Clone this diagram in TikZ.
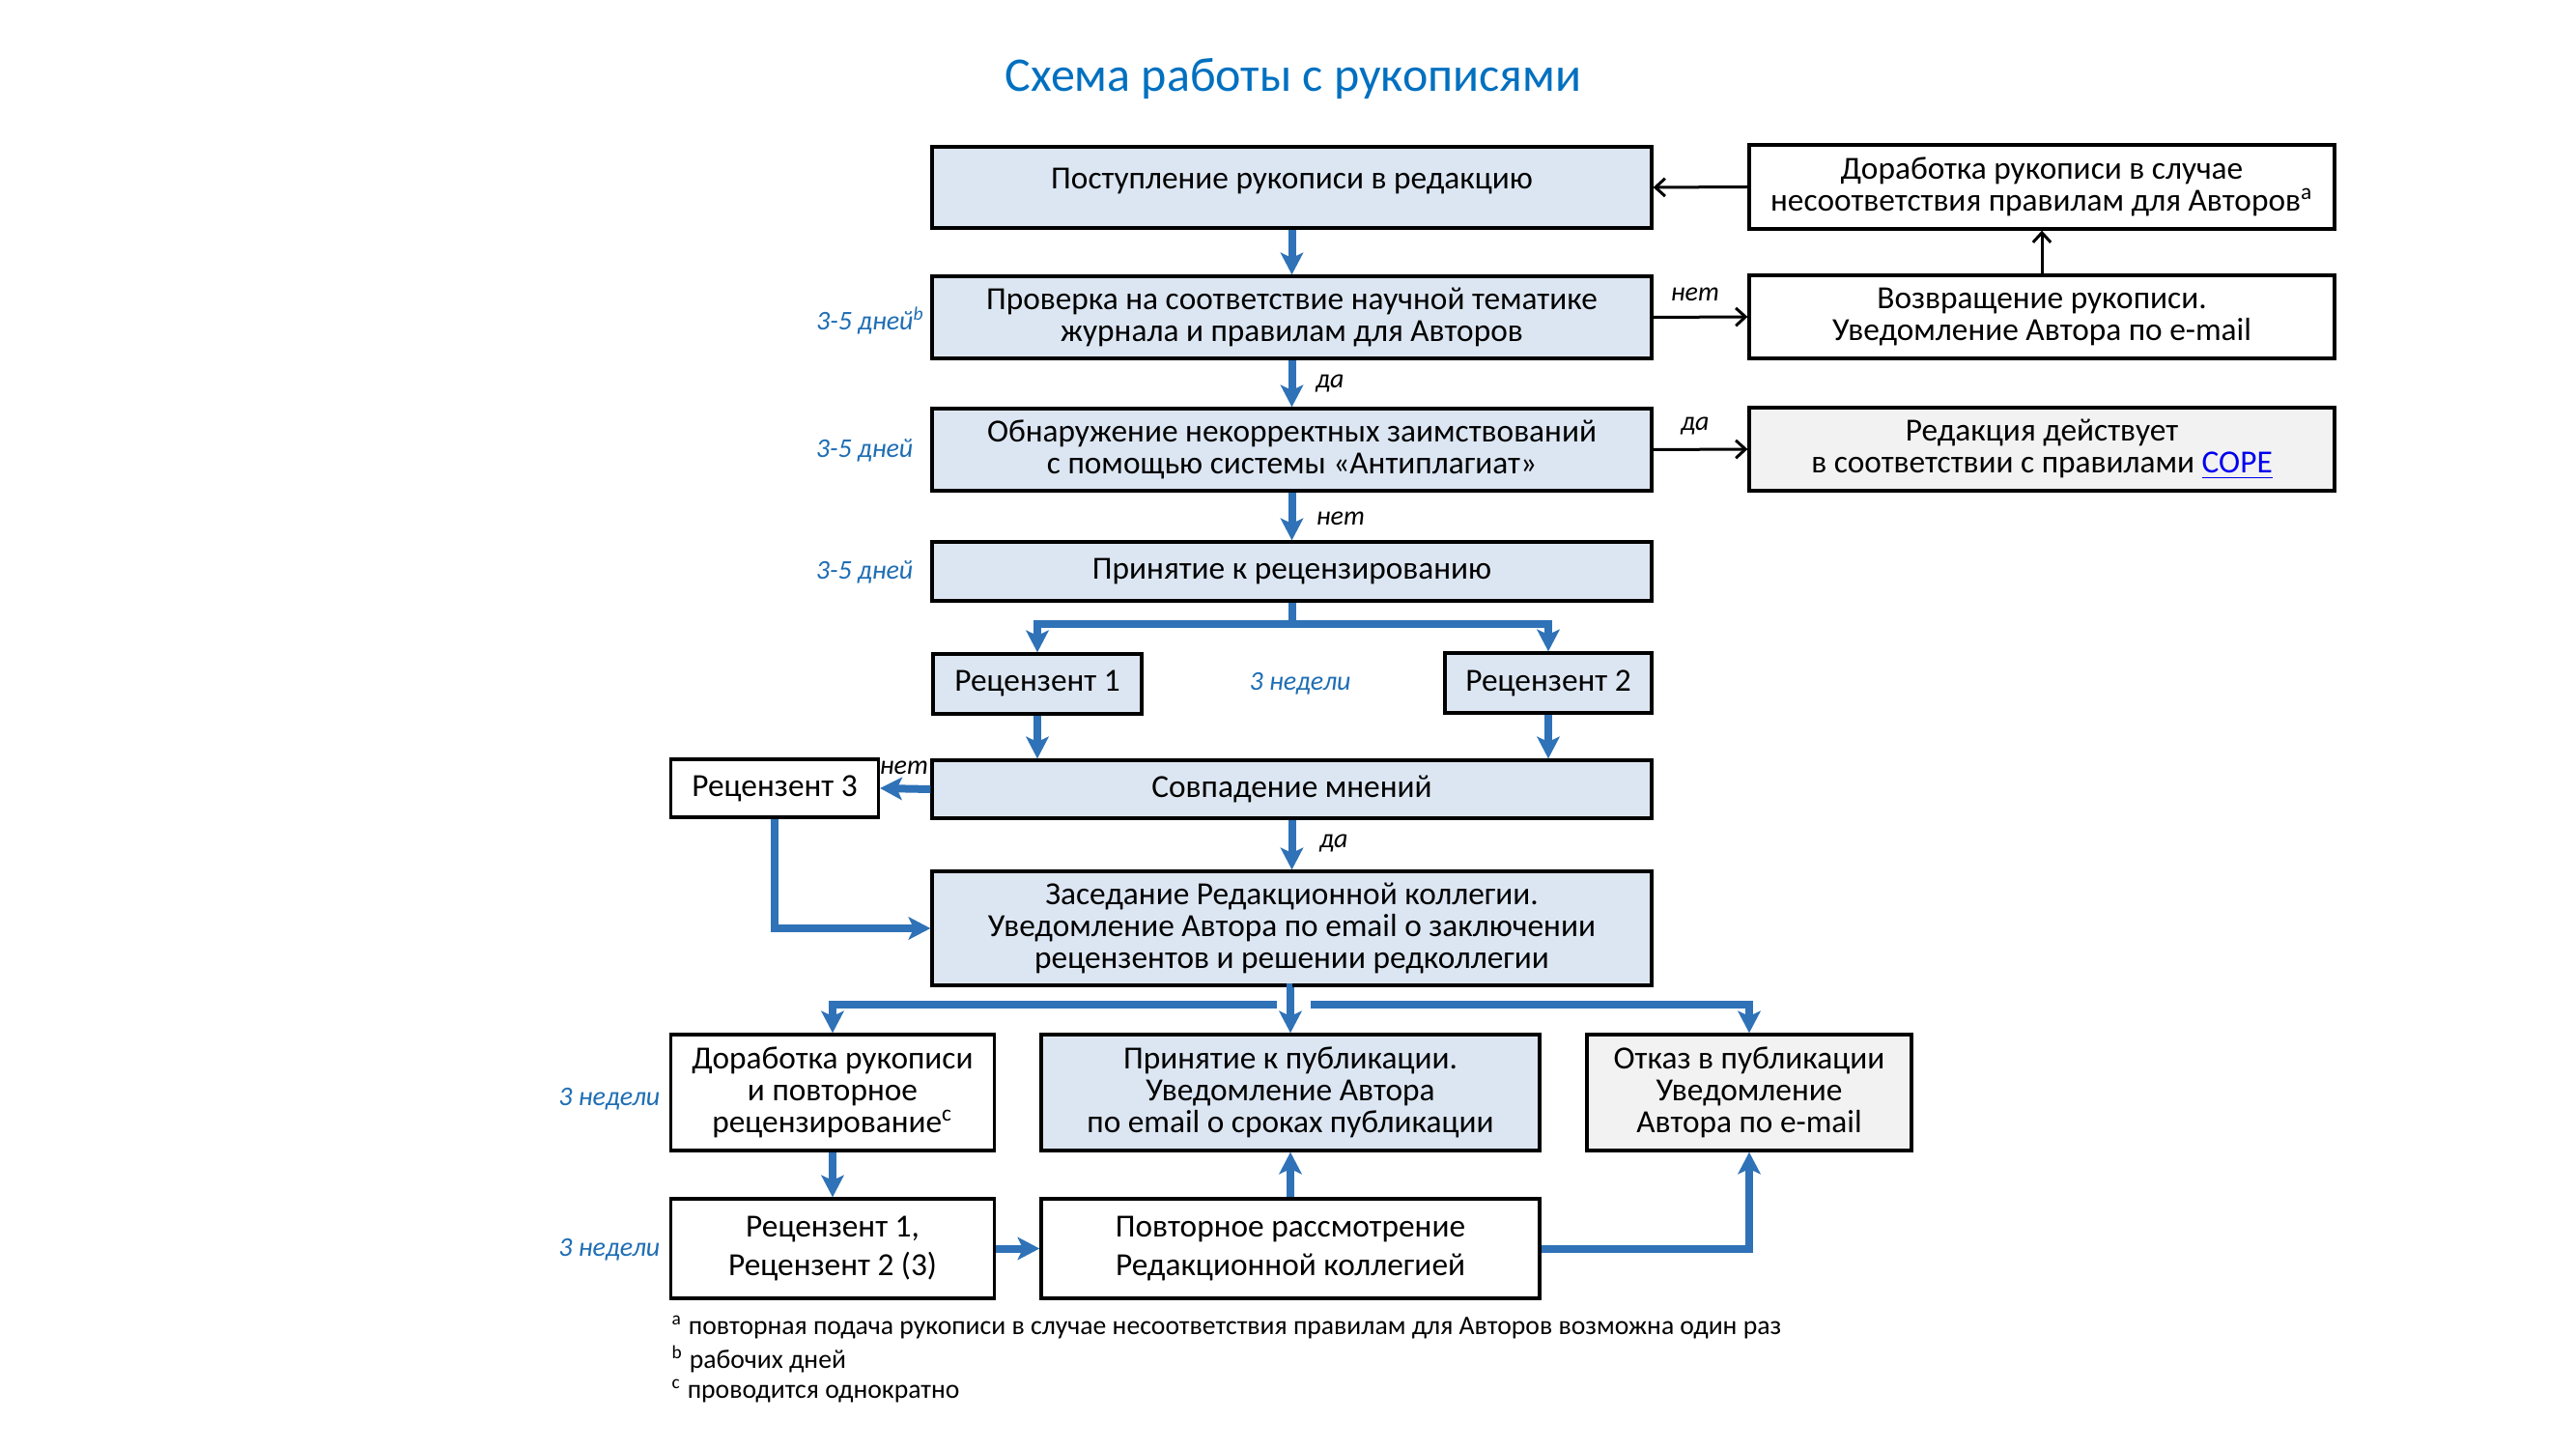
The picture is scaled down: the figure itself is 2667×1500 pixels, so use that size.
\documentclass[tikz,border=0pt]{standalone}
\usepackage{fontspec}
\setmainfont{Carlito}
\usetikzlibrary{arrows.meta}
\definecolor{boxblue}{HTML}{DCE6F2}
\definecolor{boxgray}{HTML}{F2F2F2}
\definecolor{arrowblue}{HTML}{2F72B7}
\definecolor{titleblue}{HTML}{0070C0}
\definecolor{labelblue}{HTML}{1F6EB4}
\definecolor{linkblue}{HTML}{0000EE}
\newcommand{\bodyfont}{\fontsize{10}{9.9}\selectfont}
\newcommand{\lblfont}{\fontsize{8.4}{9}\selectfont\itshape}
\newcommand{\notefont}{\fontsize{8.3}{9}\selectfont}
\tikzset{
  box/.style={draw=black, line width=1pt, fill=white, align=center, inner sep=0pt, font=\bodyfont},
  bluebox/.style={box, fill=boxblue},
  graybox/.style={box, fill=boxgray},
  bline/.style={draw=arrowblue, line width=2.4pt},
  barrow/.style={bline, -{Stealth[length=6.8pt,width=7pt,inset=1.6pt]}},
  karrow/.style={draw=black, line width=0.9pt, -{Straight Barb[length=3pt,width=5.5pt,line width=0.9pt]}},
  dlabel/.style={font=\lblfont, text=labelblue, inner sep=0pt},
  yn/.style={font=\lblfont, inner sep=0pt},
  note/.style={font=\notefont, inner sep=0pt, anchor=west}
}
\begin{document}
\begin{tikzpicture}[x=0.3pt, y=-0.3pt]
\useasboundingbox (0,0) rectangle (2667,1500);
\fill[white] (0,0) rectangle (2667,1500);

% title
\node[font=\fontsize{15}{17}\selectfont, text=titleblue, inner sep=0pt] (title) at (1339,82) {Схема работы с рукописями};

% main column
\node[bluebox, minimum width=223.5pt, minimum height=25.2pt, text depth=5.5pt] (B1) at (1337.5,194) {Поступление рукописи в редакцию};
\node[bluebox, minimum width=223.5pt, minimum height=25.5pt] (B2) at (1337.5,328.5) {Проверка на соответствие научной тематике\\журнала и правилам для Авторов};
\node[bluebox, minimum width=223.5pt, minimum height=25.5pt] (B3) at (1337.5,465.5) {Обнаружение некорректных заимствований\\с помощью системы «Антиплагиат»};
\node[bluebox, minimum width=223.5pt, minimum height=18.3pt] (B4) at (1337.5,591.5) {Принятие к рецензированию};
\node[bluebox, minimum width=64.8pt, minimum height=18.6pt] (R1) at (1074,708) {Рецензент 1};
\node[bluebox, minimum width=64.2pt, minimum height=18.6pt] (R2) at (1603,707) {Рецензент 2};
\node[bluebox, minimum width=223.5pt, minimum height=18pt] (Sov) at (1337.5,817) {Совпадение мнений};
\node[box, minimum width=64.5pt, minimum height=18pt] (R3) at (802,816) {Рецензент 3};
\node[bluebox, minimum width=223.5pt, minimum height=35.4pt] (Zas) at (1337.5,961) {Заседание Редакционной коллегии.\\Уведомление Автора по email о заключении\\рецензентов и решении редколлегии};

% bottom rows
\node[box, minimum width=100.5pt, minimum height=36pt] (D2) at (862,1131) {Доработка рукописи\\и повторное\\рецензирование\textsuperscript{c}};
\node[bluebox, minimum width=154.8pt, minimum height=36pt] (P2) at (1336,1131) {Принятие к публикации.\\Уведомление Автора\\по email о сроках публикации};
\node[graybox, minimum width=100.8pt, minimum height=36pt] (O2) at (1811,1131) {Отказ в публикации\\Уведомление\\Автора по e-mail};
\node[box, minimum width=100.5pt, minimum height=30.9pt] (R12) at (862,1292.5) {Рецензент 1,\\[2.2pt]Рецензент 2 (3)};
\node[box, minimum width=154.8pt, minimum height=30.9pt] (Pov) at (1336,1292.5) {Повторное рассмотрение\\[2.2pt]Редакционной коллегией};

% right column
\node[box, minimum width=181.8pt, minimum height=26.1pt] (TR1) at (2114,193.5) {Доработка рукописи в случае\\несоответствия правилам для Авторов\textsuperscript{a}};
\node[box, minimum width=181.8pt, minimum height=25.8pt] (TR2) at (2114,328) {Возвращение рукописи.\\Уведомление Автора по e-mail};
\node[graybox, minimum width=181.8pt, minimum height=25.8pt] (TR3) at (2114,465) {Редакция действует\\в соответствии с правилами {\color{linkblue}\underline{COPE}}};

% duration labels
\node[dlabel, anchor=east] (d1) at (958,332) {3-5 дней\textsuperscript{b}};
\node[dlabel, anchor=east] (d2) at (946,466) {3-5 дней};
\node[dlabel, anchor=east] (d3) at (946,592) {3-5 дней};
\node[dlabel] (d4) at (1346,708) {3 недели};
\node[dlabel, anchor=east] (d5) at (684,1138) {3 недели};
\node[dlabel, anchor=east] (d6) at (684,1294) {3 недели};

% yes/no labels
\node[yn] (n1) at (1755,305) {нет};
\node[yn] (y1) at (1755,441) {да};
\node[yn] (y2) at (1377,397) {да};
\node[yn] (n2) at (1388,537) {нет};
\node[yn] (n3) at (936,795) {нет};
\node[yn] (y3) at (1381,873) {да};

% black connectors
\draw[karrow] (TR1.west) -- (B1.east);
\draw[karrow] (TR2.north) -- (TR1.south);
\draw[karrow] (B2.east) -- (TR2.west);
\draw[karrow] (B3.east) -- (TR3.west);

% blue connectors
\draw[barrow] (B1.south) -- (B2.north);
\draw[barrow] (B2.south) -- (B3.north);
\draw[barrow] (B3.south) -- (B4.north);
\coordinate (j1) at (1337.5,646);
\draw[bline] (B4.south) -- (j1);
\draw[barrow] (j1) -| (R1.north);
\draw[barrow] (j1) -| (R2.north);
\draw[barrow] (R1.south) -- (R1.south |- Sov.north);
\draw[barrow] (R2.south) -- (R2.south |- Sov.north);
\draw[barrow] (Sov.west) -- (R3.east);
\draw[barrow] (R3.south) |- (Zas.west);
\draw[barrow] (Sov.south) -- (Zas.north);
\draw[barrow] (Zas.south) -- (P2.north |- Zas.south) -- (P2.north);
\coordinate (jl) at (1322,1040);
\coordinate (jr) at (1357,1040);
\draw[barrow] (jl) -| (D2.north);
\draw[barrow] (jr) -| (O2.north);
\draw[barrow] (D2.south) -- (R12.north);
\draw[barrow] (R12.east) -- (Pov.west);
\draw[barrow] (Pov.north) -- (P2.south);
\draw[barrow] (Pov.east) -| (O2.south);

% footnotes
\node[note] (f1) at (695,1374) {\textsuperscript{a} повторная подача рукописи в случае несоответствия правилам для Авторов возможна один раз};
\node[note] (f2) at (695,1407) {\textsuperscript{b} рабочих дней};
\node[note] (f3) at (695,1440) {\textsuperscript{c} проводится однократно};
\end{tikzpicture}
\end{document}
